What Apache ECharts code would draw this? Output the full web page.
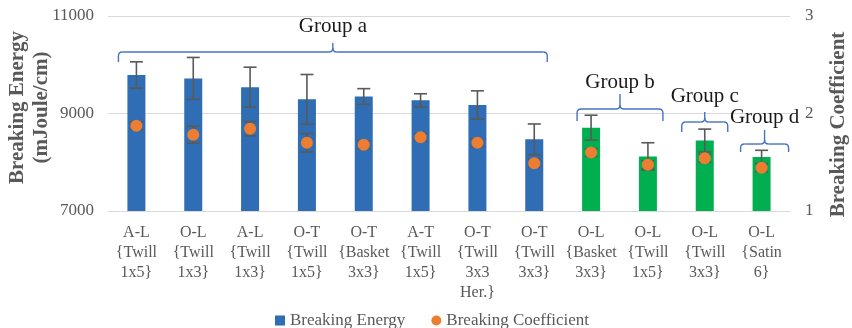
<!DOCTYPE html>
<html>
<head>
<meta charset="utf-8">
<script src="https://cdn.jsdelivr.net/npm/echarts@6/dist/echarts.min.js"></script>
<style>
  html, body { margin: 0; padding: 0; background: #fff; }
  #chart { width: 852px; height: 328px; }
</style>
</head>
<body>
<div id="chart"></div>
<script>
// Fabric samples (loading direction + weave)
const categories = [
  'A-L\n{Twill\n1x5}', 'O-L\n{Twill\n1x3}', 'A-L\n{Twill\n1x3}', 'O-T\n{Twill\n1x5}',
  'O-T\n{Basket\n3x3}', 'A-T\n{Twill\n1x5}', 'O-T\n{Twill\n3x3\nHer.}', 'O-T\n{Twill\n3x3}',
  'O-L\n{Basket\n3x3}', 'O-L\n{Twill\n1x5}', 'O-L\n{Twill\n3x3}', 'O-L\n{Satin\n6}'
];
// Breaking energy (mJoule/cm) and its standard deviation
const energy    = [9790, 9720, 9540, 9290, 9350, 9270, 9175, 8470, 8710, 8120, 8445, 8110];
const energyErr = [ 270,  430,  410,  510,  160,  135,  290,  315,  255,  280,  235,  135];
// Breaking coefficient and its standard deviation
const coef    = [1.875, 1.783, 1.844, 1.70, 1.68, 1.756, 1.70, 1.49, 1.60, 1.475, 1.54, 1.444];
const coefErr = [0.04, 0.087, 0.073, 0.094, 0.04, 0.04, 0.04, 0.04, 0.04, 0.04, 0.04, 0.04];
// Samples 0-7 form group a (blue); the rest are drawn green
const greenFrom = 8;
// Bracketed groups: first/last category index and the energy level of the bracket
const groupNames = ['Group a', 'Group b', 'Group c', 'Group d'];
const groupFirst = [0, 8, 10, 11];
const groupLast  = [7, 9, 10, 11];
const groupLevel = [10262, 9092, 8826, 8374];
// Left / right axis ticks
const energyTicks = [7000, 9000, 11000];
const coefTicks = [1, 2, 3];

const FONT = '"Liberation Serif", "Times New Roman", serif';
const GREY = '#595959';
const BLUE = '#2F6DB5';
const GREEN = '#00B050';
const ORANGE = '#ED7D31';
const BRACE = '#4472C4';

const chart = echarts.init(document.getElementById('chart'), null, { renderer: 'canvas' });

function errorBar(values, errs) {
  return function (params, api) {
    const i = api.value(0);
    const v = values[i], e = errs[i];
    const top = api.coord([i, v + e]);
    const bot = api.coord([i, v - e]);
    const hw = 6.5;
    const style = { stroke: GREY, lineWidth: 1.6 };
    return {
      type: 'group',
      children: [
        { type: 'line', shape: { x1: top[0], y1: top[1], x2: bot[0], y2: bot[1] }, style },
        { type: 'line', shape: { x1: top[0] - hw, y1: top[1], x2: top[0] + hw, y2: top[1] }, style },
        { type: 'line', shape: { x1: bot[0] - hw, y1: bot[1], x2: bot[0] + hw, y2: bot[1] }, style }
      ]
    };
  };
}

const option = {
  animation: false,
  textStyle: { fontFamily: FONT },
  grid: { left: 108, right: 62, top: 16, bottom: 117, containLabel: false, outerBoundsMode: 'none' },
  legend: {
    data: [
      { name: 'Breaking Energy', icon: 'rect' },
      { name: 'Breaking Coefficient', icon: 'circle' }
    ],
    left: 270, top: 307,
    itemWidth: 10, itemHeight: 10, itemGap: 26,
    textStyle: { fontFamily: FONT, fontSize: 17, color: GREY }
  },
  xAxis: {
    type: 'category',
    data: categories,
    axisTick: { show: false },
    axisLine: { lineStyle: { color: '#D9D9D9' } },
    axisLabel: {
      interval: 0, margin: 12, fontFamily: FONT, fontSize: 16,
      lineHeight: 20, color: GREY, verticalAlign: 'top'
    }
  },
  yAxis: [
    {
      type: 'value', min: energyTicks[0], max: energyTicks[energyTicks.length - 1], interval: 2000,
      name: 'Breaking Energy\n(mJoule/cm)', nameLocation: 'middle', nameGap: 54, nameMoveOverlap: false,
      nameTextStyle: {
        fontFamily: FONT, fontSize: 21, fontWeight: 'bold', color: GREY, lineHeight: 24,
        padding: [0, 0, 0, 12]
      },
      axisLabel: { fontFamily: FONT, fontSize: 17, color: GREY, margin: 14, formatter: v => String(v) },
      splitLine: { lineStyle: { color: '#D9D9D9' } },
      axisLine: { show: false }, axisTick: { show: false }
    },
    {
      type: 'value', min: coefTicks[0], max: coefTicks[coefTicks.length - 1], interval: 1,
      name: 'Breaking Coefficient', nameLocation: 'middle', nameGap: 38, nameMoveOverlap: false,
      nameTextStyle: {
        fontFamily: FONT, fontSize: 21, fontWeight: 'bold', color: GREY,
        padding: [0, 22, 0, 0]
      },
      axisLabel: { fontFamily: FONT, fontSize: 17, color: GREY, margin: 15, formatter: v => String(v) },
      splitLine: { show: false },
      axisLine: { show: false }, axisTick: { show: false }
    }
  ],
  series: [
    {
      name: 'Breaking Energy', type: 'bar', barWidth: 18, z: 2,
      itemStyle: { color: BLUE },
      data: energy.map((v, i) => i >= greenFrom ? { value: v, itemStyle: { color: GREEN } } : v)
    },
    {
      name: 'energyErr', type: 'custom', z: 3, yAxisIndex: 0,
      renderItem: errorBar(energy, energyErr),
      data: energy.map((v, i) => [i, v])
    },
    {
      name: 'coefErr', type: 'custom', z: 3, yAxisIndex: 1,
      renderItem: errorBar(coef, coefErr),
      data: coef.map((v, i) => [i, v])
    },
    {
      name: 'Breaking Coefficient', type: 'scatter', yAxisIndex: 1, z: 5,
      symbolSize: 12, itemStyle: { color: ORANGE, opacity: 1 },
      data: coef
    }
  ]
};

chart.setOption(option);

// Curly brackets above each group of samples, with their titles
function drawBrackets() {
  const els = [];
  const r = 4;
  const spec = [
    { padL: 18, padR: 13, drop: 10, up: 9, gap: 25 },
    { padL: 14, padR: 15, drop: 12, up: 15, gap: 27 },
    { padL: 23, padR: 23, drop: 10, up: 10, gap: 25 },
    { padL: 21, padR: 27, drop: 8, up: 14, gap: 27 }
  ];
  const st = { stroke: BRACE, lineWidth: 1.4, fill: null };
  const line = (x1, y1, x2, y2) => ({ type: 'line', z: 10, shape: { x1, y1, x2, y2 }, style: st });
  const curve = (x1, y1, cx, cy, x2, y2) => ({
    type: 'bezierCurve', z: 10, shape: { x1, y1, x2, y2, cpx1: cx, cpy1: cy }, style: st
  });
  groupNames.forEach((name, g) => {
    const s = spec[g];
    const a = chart.convertToPixel({ xAxisIndex: 0, yAxisIndex: 0 }, [groupFirst[g], groupLevel[g]]);
    const b = chart.convertToPixel({ xAxisIndex: 0, yAxisIndex: 0 }, [groupLast[g], groupLevel[g]]);
    const x0 = a[0] - s.padL, x1 = b[0] + s.padR, y = a[1];
    const xm = (x0 + x1) / 2;
    els.push(line(x0, y + s.drop, x0, y + r));
    els.push(curve(x0, y + r, x0, y, x0 + r, y));
    els.push(line(x0 + r, y, xm - r, y));
    els.push(curve(xm - r, y, xm, y, xm, y - r));
    els.push(curve(xm + r, y, xm, y, xm, y - r));
    els.push(line(xm, y - r, xm, y - s.up));
    els.push(line(xm + r, y, x1 - r, y));
    els.push(curve(x1 - r, y, x1, y, x1, y + r));
    els.push(line(x1, y + r, x1, y + s.drop));
    els.push({
      type: 'text', x: xm, y: y - s.gap, z: 10,
      style: {
        text: name, fontFamily: FONT, fontSize: 21, fill: '#1a1a1a',
        align: 'center', verticalAlign: 'middle'
      }
    });
  });
  chart.setOption({ graphic: { elements: els } });
}
drawBrackets();
</script>
</body>
</html>
